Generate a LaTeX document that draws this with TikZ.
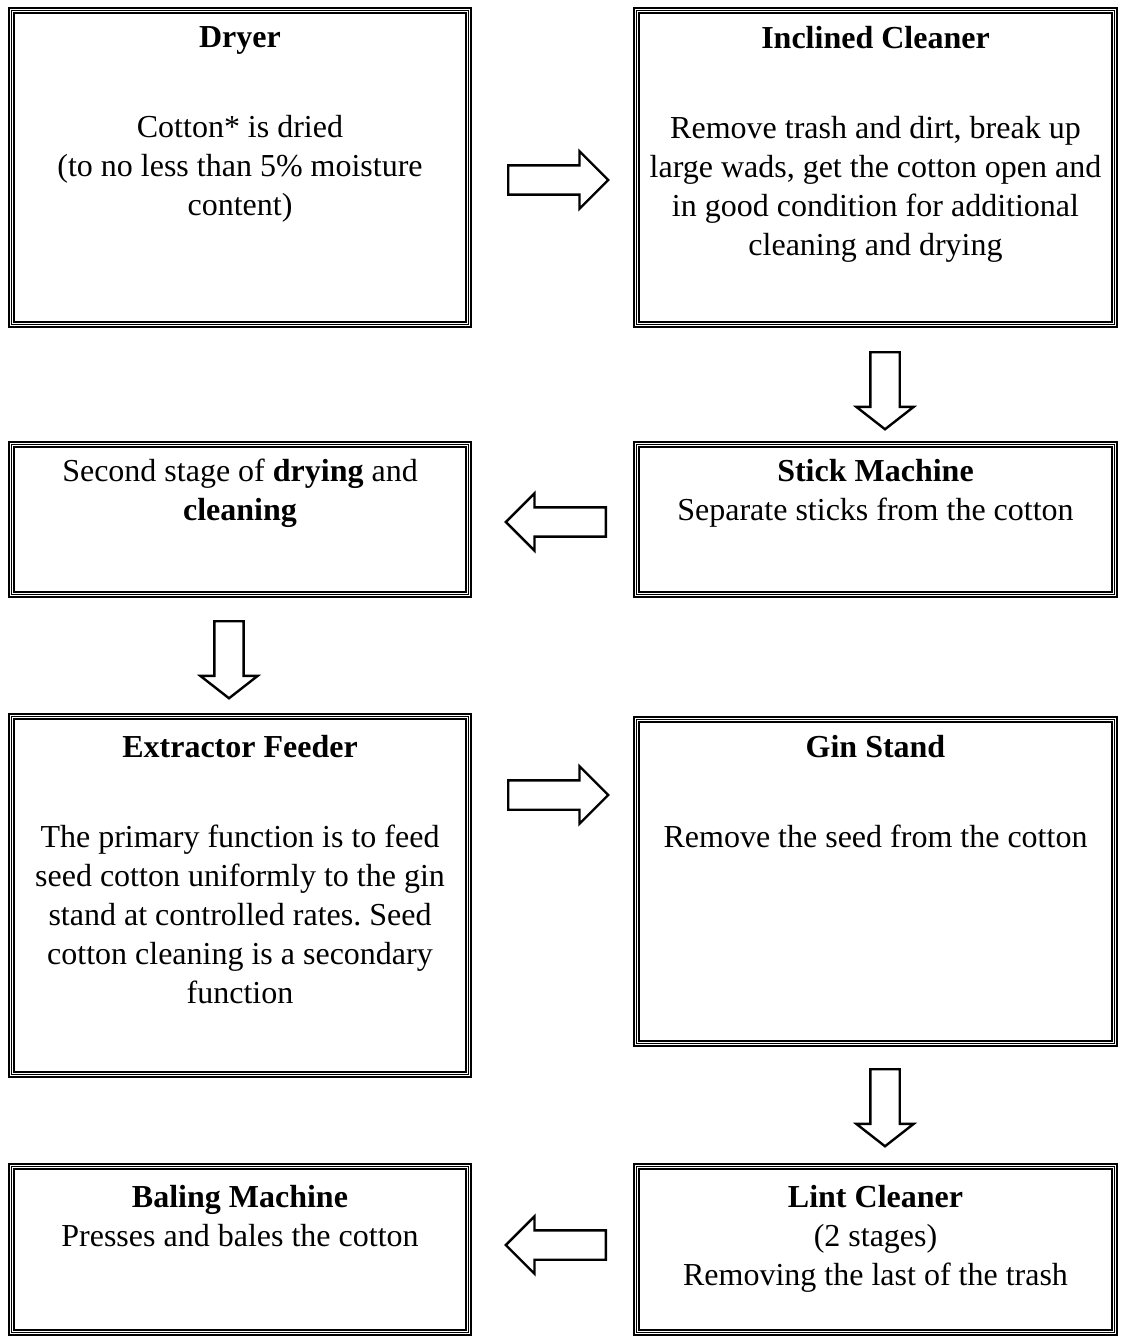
\documentclass[tikz,border=0pt]{standalone}
\usepackage{fontspec}
\setmainfont{Liberation Serif}
\frenchspacing
\usetikzlibrary{positioning,shapes.arrows}

\tikzset{
	stage/.style={rectangle, draw, line width=0.75pt, double=white, double distance=1.125pt, inner sep=0pt, postaction={draw, line width=0.375pt}},
	leftbox/.style={stage, minimum width=171.4pt},
	rightbox/.style={stage, minimum width=179.25pt},
	boxtext/.style={align=center, inner sep=0pt, font=\fontsize{12}{14.6}\selectfont},
	blockarrow/.style={single arrow, draw, line width=0.9pt, inner sep=5.06pt, anchor=tail, minimum height=37.5pt, single arrow head extend=5.25pt, single arrow tip angle=90},
	downarrow/.style={blockarrow, rotate=-90, minimum height=28.9pt, single arrow tip angle=104}
}

\begin{document}
\begin{tikzpicture}[x=0.375pt,y=-0.375pt]

	\useasboundingbox (0,0) rectangle (1120,1337);

	\node 	(dryer)		at	(240,167.5) 	[leftbox, minimum height=117.75pt]{};
	\node 	(incl)		at	(875.5,167.5) 	[rightbox, minimum height=117.75pt]{};

	\node 	(second)	at	(240,519.5) 	[leftbox, minimum height=56.25pt]{};
	\node 	(stick)		at	(875.5,519.5) 	[rightbox, minimum height=56.25pt]{};

	\node 	(extr)		at	(240,895.5) 	[leftbox, minimum height=134.25pt]{};
	\node 	(gin)		at	(875.5,881.5) 	[rightbox, minimum height=121.5pt]{};

	\node 	(baling)	at	(240,1249.5) 	[leftbox, minimum height=62.25pt]{};
	\node 	(lint)		at	(875.5,1249.5) 	[rightbox, minimum height=62.25pt]{};

	% texts
	\node 	(dryertxt)	[below=6.2pt of dryer.north, boxtext]{\textbf{Dryer}\\[19.15pt]Cotton* is dried\\(to no less than 5\% moisture\\content)};
	\node 	(incltxt)	[below=6.2pt of incl.north, boxtext]{\textbf{Inclined Cleaner}\\[19.15pt]Remove trash and dirt, break up\\large wads, get the cotton open and\\in good condition for additional\\cleaning and drying};
	\node 	(secondtxt)	[below=5.6pt of second.north, boxtext]{Second stage of \textbf{drying} and\\\textbf{cleaning}};
	\node 	(sticktxt)	[below=5.6pt of stick.north, boxtext]{\textbf{Stick Machine}\\Separate sticks from the cotton};
	\node 	(extrtxt)	[below=7.3pt of extr.north, boxtext]{\textbf{Extractor Feeder}\\[19.15pt]The primary function is to feed\\seed cotton uniformly to the gin\\stand at controlled rates. Seed\\cotton cleaning is a secondary\\function};
	\node 	(gintxt)	[below=6.2pt of gin.north, boxtext]{\textbf{Gin Stand}\\[19.15pt]Remove the seed from the cotton};
	\node 	(balingtxt)	[below=7.3pt of baling.north, boxtext]{\textbf{Baling Machine}\\Presses and bales the cotton};
	\node 	(linttxt)	[below=7.3pt of lint.north, boxtext]{\textbf{Lint Cleaner}\\(2 stages)\\Removing the last of the trash};

	% arrows
	\node 	(a1)	at	(507,180) 	[blockarrow]{};
	\node 	(a2)	at	(885,351) 	[downarrow]{};
	\node 	(a3)	at	(607,522) 	[blockarrow, rotate=180]{};
	\node 	(a4)	at	(229,620) 	[downarrow]{};
	\node 	(a5)	at	(507,795) 	[blockarrow]{};
	\node 	(a6)	at	(885,1068) 	[downarrow]{};
	\node 	(a7)	at	(607,1245) 	[blockarrow, rotate=180]{};

\end{tikzpicture}
\end{document}
